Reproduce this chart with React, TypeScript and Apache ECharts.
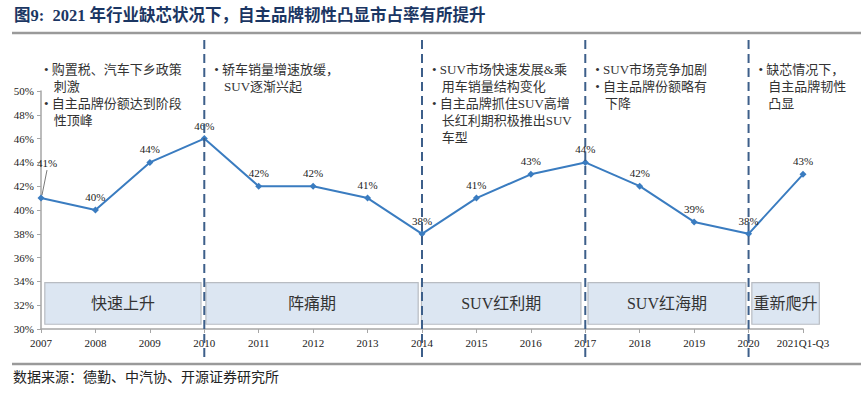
import React, { useEffect, useRef } from 'react';
import * as echarts from 'echarts';

const years = ['2007', '2008', '2009', '2010', '2011', '2012', '2013', '2014', '2015', '2016', '2017', '2018', '2019', '2020', '2021Q1-Q3'];
const share = [41, 40, 44, 46, 42, 42, 41, 38, 41, 43, 44, 42, 39, 38, 43];
const yMin = 30;
const yMax = 50;
const yStep = 2;

const dividerIdx = [3, 7, 10, 13];
const phaseNames = ['快速上升', '阵痛期', 'SUV红利期', 'SUV红海期', '重新爬升'];
const phaseFrom = [0.07, 3.03, 6.99, 10.05, 13.06];
const phaseTo = [2.94, 6.93, 9.92, 12.95, 14.3];
const phaseTop = 33.9;
const phaseBottom = 30.4;

const notes = [
  '• 购置税、汽车下乡政策\n   刺激\n• 自主品牌份额达到阶段\n   性顶峰',
  '• 轿车销量增速放缓，\n   SUV逐渐兴起',
  '• SUV市场快速发展&乘\n   用车销量结构变化\n• 自主品牌抓住SUV高增\n   长红利期积极推出SUV\n   车型',
  '• SUV市场竞争加剧\n• 自主品牌份额略有\n   下降',
  '• 缺芯情况下，\n   自主品牌韧性\n   凸显',
];
const noteAnchor = [0, 3, 7, 10, 13];

const title = '图9:  2021 年行业缺芯状况下，自主品牌韧性凸显市占率有所提升';
const source = '数据来源：德勤、中汽协、开源证券研究所';

const SERIF = '"Times New Roman", "Liberation Serif", "DejaVu Serif", "Noto Sans CJK SC", serif';
const CJK = '"Liberation Serif", "Noto Sans CJK SC", serif';

export default function App() {
  const ref = useRef<HTMLDivElement>(null);
  useEffect(() => {
    if (!ref.current) return;
    const chart = echarts.init(ref.current, undefined, { renderer: 'svg' });
    chart.setOption({
      animation: false,
      backgroundColor: '#ffffff',
      grid: { left: 41, right: 58, top: 91, bottom: 65 },
      xAxis: {
        type: 'category',
        data: years,
        boundaryGap: false,
        axisLine: { lineStyle: { color: '#a6a6a6', width: 1.5 } },
        axisTick: { lineStyle: { color: '#a6a6a6' }, length: 4 },
        axisLabel: { color: '#222', fontFamily: SERIF, fontSize: 11, margin: 8, interval: 0 },
      },
      yAxis: {
        type: 'value',
        min: yMin,
        max: yMax,
        interval: yStep,
        splitLine: { show: false },
        axisLine: { show: true, lineStyle: { color: '#a6a6a6', width: 1.5 } },
        axisTick: { show: true, lineStyle: { color: '#a6a6a6' }, length: 4 },
        axisLabel: { color: '#222', fontFamily: SERIF, fontSize: 11, margin: 7, formatter: '{value}%' },
      },
      series: [
        {
          type: 'line',
          data: share.map((v, i) =>
            i === 0
              ? { value: v, label: { offset: [6, -22] } }
              : v
          ),
          symbol: 'diamond',
          symbolSize: 7,
          lineStyle: { color: '#3a7cc0', width: 2 },
          itemStyle: { color: '#3a7cc0' },
          label: {
            show: true,
            position: 'top',
            distance: 4,
            formatter: '{c}%',
            color: '#222',
            fontFamily: SERIF,
            fontSize: 11,
          },
          z: 5,
        },
      ],
    });

    const px = (i: number, v: number) => chart.convertToPixel({ xAxisIndex: 0, yAxisIndex: 0 }, [i, v]) as number[];
    const xAt = (f: number) => {
      const a = px(0, yMin)[0];
      const b = px(1, yMin)[0];
      return a + (b - a) * f;
    };
    const yAt = (v: number) => px(0, v)[1];

    const graphics: any[] = [];
    graphics.push({
      type: 'text', left: 14, top: 7,
      style: { text: title, fill: '#1b3663', font: `bold 16.5px ${CJK}` },
    });
    graphics.push({
      type: 'line', shape: { x1: 12, y1: 33, x2: 861, y2: 33 },
      style: { stroke: '#9a9a9a', lineWidth: 2.5 },
    });
    graphics.push({
      type: 'line', shape: { x1: 12, y1: 364, x2: 861, y2: 364 },
      style: { stroke: '#9a9a9a', lineWidth: 2.5 },
    });
    graphics.push({
      type: 'text', left: 13, top: 370,
      style: { text: source, fill: '#222', font: `14px ${CJK}` },
    });

    phaseNames.forEach((name, k) => {
      const x1 = xAt(phaseFrom[k]);
      const x2 = xAt(phaseTo[k]);
      const y1 = yAt(phaseTop);
      const y2 = yAt(phaseBottom);
      graphics.push({
        type: 'rect', z: 1,
        shape: { x: x1, y: y1, width: x2 - x1, height: y2 - y1 },
        style: { fill: '#dce6f2', stroke: '#b8bcc2', lineWidth: 1.2 },
      });
      graphics.push({
        type: 'text', z: 2,
        x: (x1 + x2) / 2, y: (y1 + y2) / 2,
        style: { text: name, fill: '#333', font: `16px ${CJK}`, align: 'center', verticalAlign: 'middle' },
      });
    });

    dividerIdx.forEach((i) => {
      const x = xAt(i);
      graphics.push({
        type: 'line', z: 10,
        shape: { x1: x, y1: 40, x2: x, y2: 358 },
        style: { stroke: '#3d5f8a', lineWidth: 2, lineDash: [9, 5] },
      });
    });

    notes.forEach((t, k) => {
      const x = xAt(noteAnchor[k]) + (k === 0 ? 3 : 10);
      graphics.push({
        type: 'text', z: 3,
        x, y: 61,
        style: { text: t, fill: '#333', font: `13px ${CJK}`, lineHeight: 17 },
      });
    });

    const p0 = px(0, share[0]);
    graphics.push({
      type: 'line', z: 4,
      shape: { x1: p0[0] + 1, y1: p0[1] - 3, x2: p0[0] + 6, y2: p0[1] - 28 },
      style: { stroke: '#555', lineWidth: 0.8 },
    });

    chart.setOption({ graphic: graphics });
    return () => chart.dispose();
  }, []);
  return <div ref={ref} style={{ position: 'fixed', left: 0, top: 0, width: 861, height: 394 }} />;
}
